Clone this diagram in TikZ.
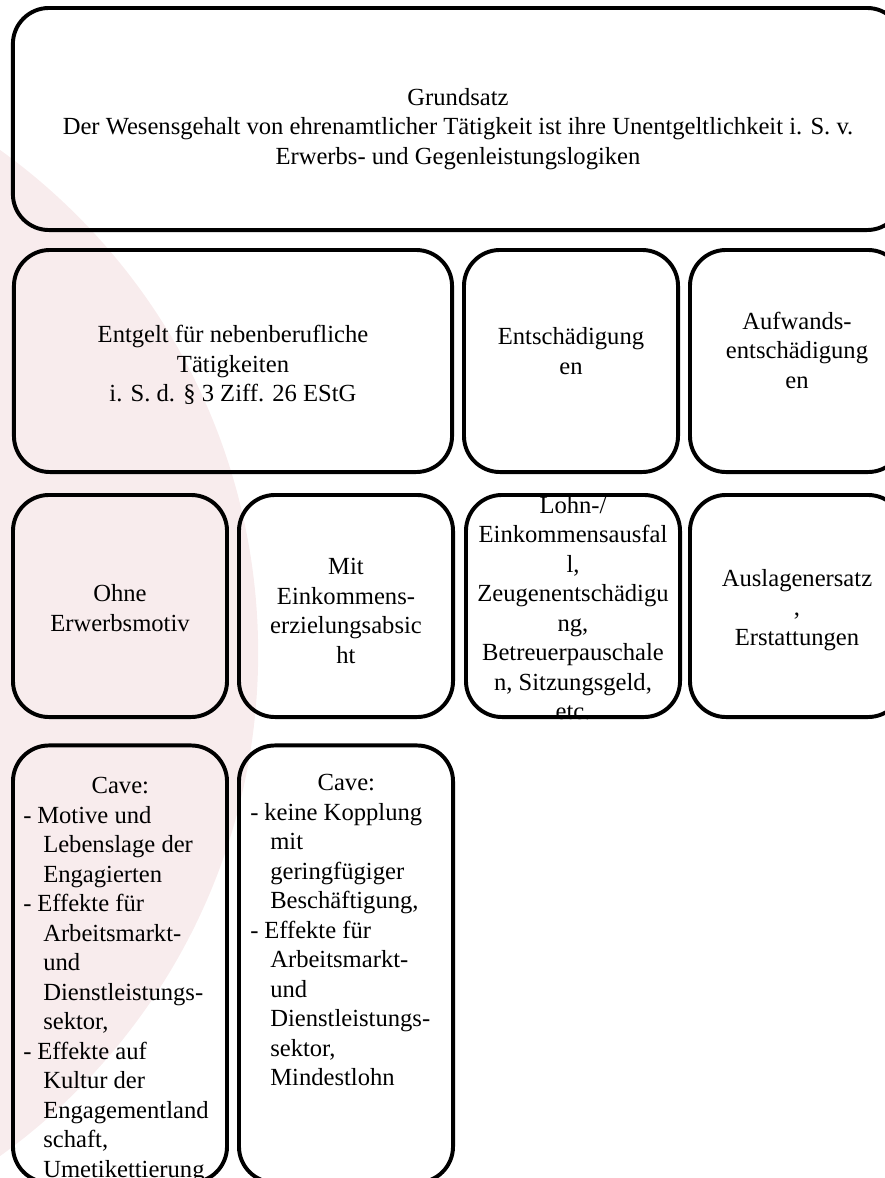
\documentclass[tikz,border=0pt]{standalone}
\usepackage{fontspec}
\setmainfont{Liberation Serif}
\usepackage{xcolor}
\usepackage{tikz}
\definecolor{blush}{RGB}{248,236,237}

\begin{document}
\begin{tikzpicture}[x=0.025cm, y=-0.025cm, font=\fontsize{17.5}{21}\selectfont,
  tile/.style={draw, line width=2.8pt, rounded corners=0.9cm,
    inner sep=0pt, minimum width=5.35cm, minimum height=5.55cm},
  txt/.style={align=center, inner sep=0pt},
  cavelist/.style={anchor=north west, align=left, inner sep=0pt}]
\def\ya{119}    % y of the principle
\def\yb{361}    % y of the three kinds of payment
\def\yc{606}    % y of the sub cases
\def\yd{964}    % y of the two caveats
\def\cvdash{\makebox[0.35cm][l]{-}}   % list dash, hanging
\def\cvind{\hspace*{0.5cm}}           % list continuation indent

\useasboundingbox (0,0) rectangle (885,1178);
\clip (0,0) rectangle (885,1178);

% pale disc behind the left column
\fill[blush] (-361,653) circle [radius=15.475cm];

% ================= principle =================
\node[tile, minimum width=22.25cm] (grund) at (458,\ya) {};
\node[txt] (grundtxt) at (458,129)
  {Grundsatz\\Der Wesensgehalt von ehrenamtlicher Tätigkeit ist ihre Unentgeltlichkeit i. S. v.\\Erwerbs- und Gegenleistungslogiken};

% ================= three kinds of payment =================
\node[tile, minimum width=10.95cm] (entgelt) at (233,\yb) {};
\node[tile] (entsch) at (571,\yb) {};
\node[tile] (aufwand) at (797,\yb) {};
\node[txt] (entgelttxt) at (233,365) {Entgelt für nebenberufliche\\Tätigkeiten\\i. S. d. § 3 Ziff. 26 EStG};
\node[txt] (entschtxt) at (571,351) {Entschädigung\\en};
\node[txt] (aufwandtxt) at (797,350) {Aufwands-\\entschädigung\\en};

% ================= sub cases =================
\node[tile] (ohne) at (120,\yc) {};
\node[tile] (mit) at (346,\yc) {};
\node[tile] (lohn) at (573,\yc) {};
\node[tile] (auslagen) at (797,\yc) {};
\node[txt] (ohnetxt) at (120,608) {Ohne\\Erwerbsmotiv};
\node[txt] (mittxt) at (346,611) {Mit\\Einkommens-\\erzielungsabsic\\ht};
\node[txt] (lohntxt) at (573,608)
  {Lohn-/\\Einkommensausfal\\l,\\Zeugenentschädigu\\ng,\\Betreuerpauschale\\n, Sitzungsgeld,\\etc.};
\node[txt] (auslagentxt) at (797,610) {Auslagenersatz\\,\\Erstattungen};

% ================= caveats =================
\node[tile, minimum height=10.925cm] (cave1) at (120,\yd) {};
\node[tile, minimum height=10.925cm] (cave2) at (346,\yd) {};

\node[cavelist] (cave1txt) at (23,777)
  {\makebox[4.85cm][c]{Cave:}\\
   \cvdash Motive und\\ \cvind Lebenslage der\\ \cvind Engagierten\\
   \cvdash Effekte für\\ \cvind Arbeitsmarkt-\\ \cvind und\\ \cvind Dienstleistungs-\\ \cvind sektor,\\
   \cvdash Effekte auf\\ \cvind Kultur der\\ \cvind Engagementland\\ \cvind schaft,\\ \cvind Umetikettierung};
\node[cavelist] (cave2txt) at (250,774)
  {\makebox[4.8cm][c]{Cave:}\\
   \cvdash keine Kopplung\\ \cvind mit\\ \cvind geringfügiger\\ \cvind Beschäftigung,\\
   \cvdash Effekte für\\ \cvind Arbeitsmarkt-\\ \cvind und\\ \cvind Dienstleistungs-\\ \cvind sektor,\\ \cvind Mindestlohn};

\end{tikzpicture}
\end{document}
